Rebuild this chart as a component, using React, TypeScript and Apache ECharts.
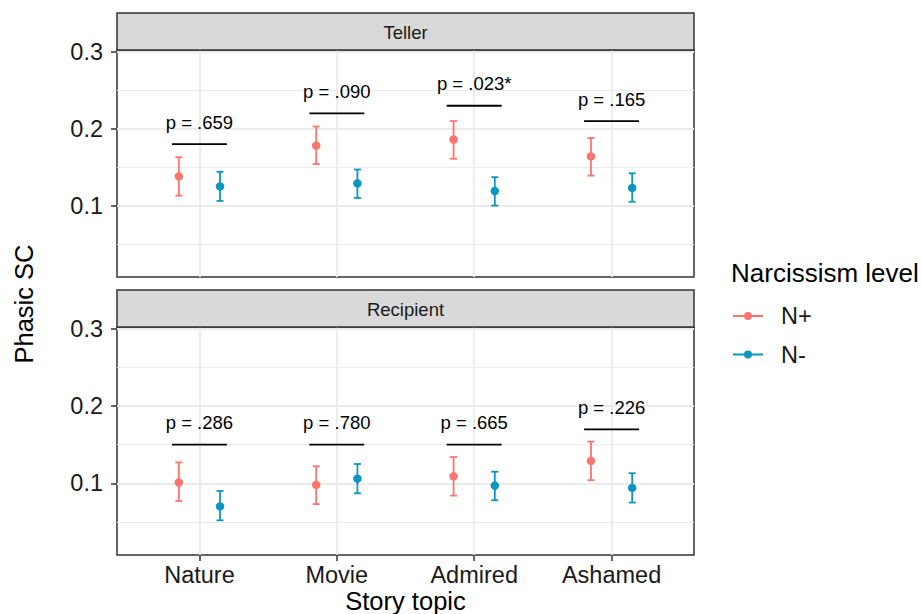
import React, { useEffect, useRef } from 'react';
import * as echarts from 'echarts';

// ---------- data ----------
const categories = ['Nature', 'Movie', 'Admired', 'Ashamed'];
const panelNames = ['Teller', 'Recipient'];
const groupNames = ['N+', 'N-'];
const yTickValues = [0.1, 0.2, 0.3];
const yMinorValues = [0.05, 0.15, 0.25];

const tellerNPlusMean = [0.138, 0.178, 0.186, 0.164];
const tellerNPlusLow = [0.113, 0.154, 0.161, 0.139];
const tellerNPlusHigh = [0.163, 0.203, 0.210, 0.188];
const tellerNMinusMean = [0.125, 0.129, 0.119, 0.123];
const tellerNMinusLow = [0.106, 0.110, 0.100, 0.105];
const tellerNMinusHigh = [0.144, 0.147, 0.137, 0.142];

const recipientNPlusMean = [0.101, 0.098, 0.109, 0.129];
const recipientNPlusLow = [0.077, 0.073, 0.084, 0.104];
const recipientNPlusHigh = [0.127, 0.122, 0.134, 0.154];
const recipientNMinusMean = [0.070, 0.106, 0.097, 0.094];
const recipientNMinusLow = [0.052, 0.087, 0.078, 0.075];
const recipientNMinusHigh = [0.090, 0.125, 0.115, 0.113];

const tellerPText = ['p = .659', 'p = .090', 'p = .023*', 'p = .165'];
const tellerPLineY = [0.18, 0.22, 0.23, 0.21];
const recipientPText = ['p = .286', 'p = .780', 'p = .665', 'p = .226'];
const recipientPLineY = [0.15, 0.15, 0.15, 0.17];

// ---------- styling / layout ----------
const FONT = '"Liberation Sans", Arial, Helvetica, sans-serif';
const COLORS = ['#F8766D', '#0B96C2'];
const DODGE = 0.15;
const BRACKET_HALF = 0.2;
const Y_MIN = 0.007;
const Y_MAX = 0.3026;
const GRID_LEFT = 117;
const GRID_WIDTH = 577;
const GRID_TOPS = [50, 327];
const GRID_HEIGHTS = [227, 228];
const STRIP_H = 37;
const BORDER = '#333333';
const GRIDLINE = '#EBEBEB';
const TEXT = '#1a1a1a';

const panels = [
  {
    mean: [tellerNPlusMean, tellerNMinusMean],
    low: [tellerNPlusLow, tellerNMinusLow],
    high: [tellerNPlusHigh, tellerNMinusHigh],
    pText: tellerPText,
    pY: tellerPLineY,
  },
  {
    mean: [recipientNPlusMean, recipientNMinusMean],
    low: [recipientNPlusLow, recipientNMinusLow],
    high: [recipientNPlusHigh, recipientNMinusHigh],
    pText: recipientPText,
    pY: recipientPLineY,
  },
];

export default function App() {
  const ref = useRef<HTMLDivElement>(null);

  useEffect(() => {
    if (!ref.current) return;
    const chart = echarts.init(ref.current, null, { renderer: 'svg' });
    const catValues = categories.map((_, i) => i + 1);

    const grids: any[] = [];
    const xAxes: any[] = [];
    const yAxes: any[] = [];
    const series: any[] = [];
    const graphics: any[] = [];

    panels.forEach((pd, p) => {
      const isBottom = p === panels.length - 1;
      grids.push({
        left: GRID_LEFT,
        top: GRID_TOPS[p],
        width: GRID_WIDTH,
        height: GRID_HEIGHTS[p],
        show: true,
        borderColor: BORDER,
        borderWidth: 1.5,
        backgroundColor: 'transparent',
      });
      xAxes.push({
        type: 'value',
        gridIndex: p,
        min: 0.4,
        max: 4.6,
        axisLine: { show: false },
        axisTick: {
          show: isBottom,
          customValues: catValues,
          length: 6,
          lineStyle: { color: BORDER, width: 1.5 },
        },
        axisLabel: {
          show: isBottom,
          customValues: catValues,
          formatter: (v: number) => categories[Math.round(v) - 1] ?? '',
          fontSize: 23.5,
          fontFamily: FONT,
          color: TEXT,
          margin: 8,
        },
        splitLine: { show: true, lineStyle: { color: GRIDLINE, width: 1.8 } },
      });
      // main y axis
      yAxes.push({
        type: 'value',
        gridIndex: p,
        min: Y_MIN,
        max: Y_MAX,
        position: 'left',
        axisLine: { show: false },
        axisTick: {
          show: true,
          customValues: yTickValues,
          length: 6,
          lineStyle: { color: BORDER, width: 1.5 },
        },
        axisLabel: {
          show: true,
          customValues: yTickValues,
          formatter: (v: number) => v.toFixed(1),
          fontSize: 23.5,
          fontFamily: FONT,
          color: TEXT,
          margin: 14,
        },
        splitLine: { show: true, lineStyle: { color: GRIDLINE, width: 1.8 } },
      });
      // minor grid y axis
      yAxes.push({
        type: 'value',
        gridIndex: p,
        min: Y_MIN,
        max: Y_MAX,
        position: 'left',
        axisLine: { show: false },
        axisTick: { show: false, customValues: yMinorValues },
        axisLabel: { show: false, customValues: yMinorValues },
        splitLine: { show: true, lineStyle: { color: GRIDLINE, width: 1.1 } },
      });

      const yIdx = p * 2;
      groupNames.forEach((gName, g) => {
        const offset = g === 0 ? -DODGE : DODGE;
        const color = COLORS[g];
        series.push({
          type: 'custom',
          xAxisIndex: p,
          yAxisIndex: yIdx,
          z: 2,
          silent: true,
          encode: { x: 0, y: [1, 2] },
          data: categories.map((_, i) => [i + 1 + offset, pd.low[g][i], pd.high[g][i]]),
          renderItem: (params: any, api: any) => {
            const x = api.value(0);
            const lo = api.coord([x, api.value(1)]);
            const hi = api.coord([x, api.value(2)]);
            const hw = 3.5;
            const st = { stroke: color, lineWidth: 1.8, fill: 'none' };
            return {
              type: 'group',
              children: [
                { type: 'line', shape: { x1: lo[0], y1: lo[1], x2: hi[0], y2: hi[1] }, style: st },
                { type: 'line', shape: { x1: lo[0] - hw, y1: lo[1], x2: lo[0] + hw, y2: lo[1] }, style: st },
                { type: 'line', shape: { x1: hi[0] - hw, y1: hi[1], x2: hi[0] + hw, y2: hi[1] }, style: st },
              ],
            };
          },
        });
        series.push({
          name: gName,
          type: 'scatter',
          xAxisIndex: p,
          yAxisIndex: yIdx,
          z: 3,
          symbol: 'circle',
          symbolSize: 8.5,
          itemStyle: { color, opacity: 1 },
          data: categories.map((_, i) => [i + 1 + offset, pd.mean[g][i]]),
        });
      });

      series.push({
        type: 'custom',
        xAxisIndex: p,
        yAxisIndex: yIdx,
        z: 4,
        silent: true,
        data: categories.map((_, i) => [i + 1, pd.pY[i]]),
        renderItem: (params: any, api: any) => {
          const x = api.value(0);
          const y = api.value(1);
          const a = api.coord([x - BRACKET_HALF, y]);
          const b = api.coord([x + BRACKET_HALF, y]);
          return {
            type: 'group',
            children: [
              {
                type: 'line',
                shape: { x1: a[0], y1: a[1], x2: b[0], y2: b[1] },
                style: { stroke: '#000', lineWidth: 1.8 },
              },
              {
                type: 'text',
                x: (a[0] + b[0]) / 2,
                y: a[1] - 12.5,
                style: {
                  text: pd.pText[params.dataIndex],
                  align: 'center',
                  verticalAlign: 'bottom',
                  fontSize: 18.5,
                  fontFamily: FONT,
                  fill: '#000',
                },
              },
            ],
          };
        },
      });

      // strip
      const stripTop = GRID_TOPS[p] - STRIP_H;
      graphics.push({
        type: 'rect',
        shape: { x: GRID_LEFT, y: stripTop, width: GRID_WIDTH, height: STRIP_H },
        style: { fill: '#D9D9D9', stroke: BORDER, lineWidth: 1.5 },
        z: 10,
      });
      graphics.push({
        type: 'text',
        x: GRID_LEFT + GRID_WIDTH / 2,
        y: stripTop + STRIP_H / 2 + 1,
        style: {
          text: panelNames[p],
          align: 'center',
          verticalAlign: 'middle',
          fontSize: 18.5,
          fontFamily: FONT,
          fill: TEXT,
        },
        z: 11,
      });
    });

    graphics.push({
      type: 'text',
      x: 24,
      y: 304,
      rotation: Math.PI / 2,
      style: {
        text: 'Phasic SC',
        align: 'center',
        verticalAlign: 'middle',
        fontSize: 25.5,
        fontFamily: FONT,
        fill: '#000',
      },
    });
    graphics.push({
      type: 'text',
      x: GRID_LEFT + GRID_WIDTH / 2,
      y: 600.5,
      style: {
        text: 'Story topic',
        align: 'center',
        verticalAlign: 'middle',
        fontSize: 25.5,
        fontFamily: FONT,
        fill: '#000',
      },
    });
    graphics.push({
      type: 'text',
      x: 731,
      y: 273,
      style: {
        text: 'Narcissism level',
        align: 'left',
        verticalAlign: 'middle',
        fontSize: 26,
        fontFamily: FONT,
        fill: '#000',
      },
    });

    const option: any = {
      animation: false,
      backgroundColor: '#ffffff',
      grid: grids,
      xAxis: xAxes,
      yAxis: yAxes,
      series,
      graphic: graphics,
      legend: {
        data: groupNames,
        orient: 'vertical',
        left: 728,
        top: 299,
        itemWidth: 56,
        itemHeight: 8,
        itemGap: 14.5,
        icon: 'path://M0,3.1h30v1.8h-30z M11,4a4,4 0 1,1 8,0a4,4 0 1,1 -8,0z',
        selectedMode: false,
        textStyle: { fontSize: 23.5, fontFamily: FONT, color: TEXT },
      },
    };
    chart.setOption(option);
    return () => chart.dispose();
  }, []);

  return (
    <div
      ref={ref}
      style={{ position: 'fixed', left: 0, top: 0, width: 922, height: 614, background: '#fff' }}
    />
  );
}
